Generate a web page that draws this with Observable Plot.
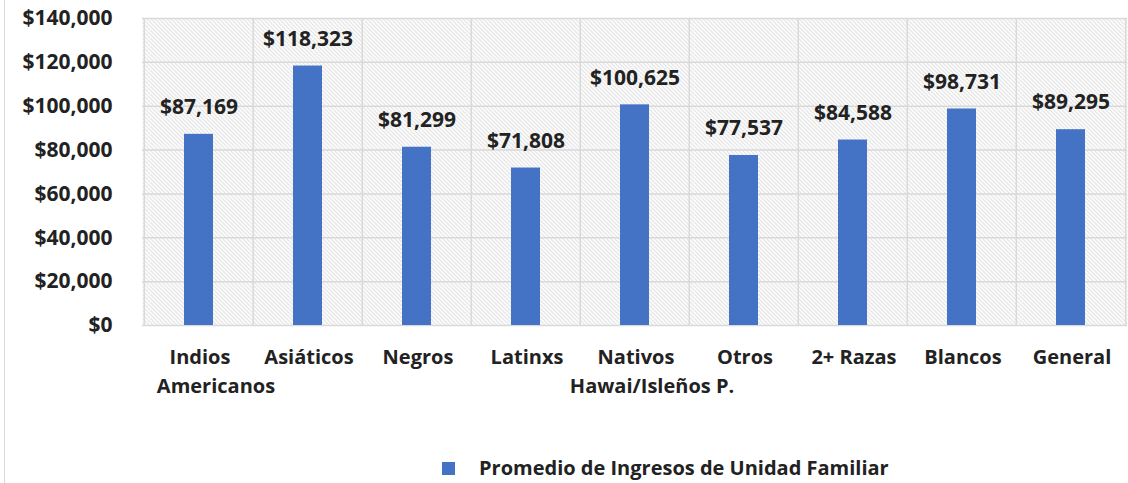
<!DOCTYPE html>
<html><head><meta charset="utf-8">
<script src="https://cdn.jsdelivr.net/npm/d3@7"></script>
<script src="https://cdn.jsdelivr.net/npm/@observablehq/plot@0.6"></script>
<style>
body{margin:0;background:#fff;}
#wrap{position:relative;width:1128px;height:483px;overflow:hidden;font-family:"Open Sans",sans-serif;color:#222;}
#wrap::before{content:"";position:absolute;left:4px;top:0;bottom:0;border-left:1px solid #d9d9d9;}
#chart svg{display:block;}
.legend{position:relative;height:43px;}
.legend .sw{position:absolute;left:442px;top:22px;width:13px;height:13px;background:#4472C4;}
.legend .lb{position:absolute;left:479px;top:15px;font-size:20px;font-weight:bold;line-height:26px;white-space:nowrap;}
</style></head><body>
<div id="wrap"><div id="chart"></div><div class="legend"><div class="sw"></div><div class="lb"></div></div></div>
<script>
const categories = ["Indios\nAmericanos","Asiáticos","Negros","Latinxs","Nativos\nHawai/Isleños P.","Otros","2+ Razas","Blancos","General"];
const values = [87169,118323,81299,71808,100625,77537,84588,98731,89295];
const yTicks = [0,20000,40000,60000,80000,100000,120000,140000];
const seriesName = "Promedio de Ingresos de Unidad Familiar";
const barColor = "#4472C4";

const data = categories.map((c,i)=>({cat:c, value:values[i]}));
const W = 1128, H = 440, mL = 142, mR = 1, mT = 18, mB = 115;
const step = (W - mL - mR) / categories.length;
const fmt = d3.format("$,");
const ink = "#222";

const defs = () => {
  const d = d3.create("svg:defs");
  const p = d.append("pattern").attr("id","hatch").attr("patternUnits","userSpaceOnUse")
    .attr("width",4).attr("height",4);
  p.append("rect").attr("width",4).attr("height",4).attr("fill","#fff");
  p.append("path").attr("d","M0,0L4,4M-1,3L1,5M3,-1L5,1").attr("stroke","#cfcfcf").attr("stroke-width",1);
  return d.node();
};

const secondLines = data.filter(d => d.cat.includes("\n"));

const chart = Plot.plot({
  width: W, height: H,
  marginLeft: mL, marginRight: mR, marginTop: mT, marginBottom: mB,
  style: {fontFamily: "Open Sans, sans-serif", fontSize: "20px", fontWeight: "bold", color: ink, background: "#fff"},
  x: {domain: categories, paddingInner: 0.73, paddingOuter: 0.365, label: null},
  y: {domain: [0, 140000], label: null},
  marks: [
    defs,
    Plot.frame({fill: "url(#hatch)", stroke: null}),
    Plot.ruleY(yTicks, {stroke: "#d9d9d9", strokeWidth: 1.5}),
    Plot.ruleX(categories, {x: d => d, dx: -step/2, stroke: "#d9d9d9", strokeWidth: 1.5}),
    Plot.ruleX(categories.slice(-1), {x: d => d, dx: step/2, stroke: "#d9d9d9", strokeWidth: 1.5}),
    Plot.barY(data, {x: "cat", y: "value", fill: barColor}),
    Plot.text(data, {x: "cat", y: "value", text: d => fmt(d.value), dy: -27, fontSize: 21, fontWeight: "bold", fill: ink}),
    Plot.axisY({ticks: yTicks, tickFormat: fmt, tickSize: 0, tickPadding: 30, fontSize: 21, fontWeight: "bold", fill: ink}),
    Plot.axisX({tickSize: 0, tickPadding: 24, fontSize: 20, fontWeight: "bold", fill: ink, tickFormat: d => d.split("\n")[0], dx: 1}),
    Plot.text(secondLines, {x: "cat", y: () => 0, text: d => d.cat.split("\n")[1], dy: 61, dx: 17, fontSize: 20, fontWeight: "bold", fill: ink})
  ]
});
document.getElementById("chart").appendChild(chart);
document.querySelector(".legend .lb").textContent = seriesName;
</script>
</body></html>
